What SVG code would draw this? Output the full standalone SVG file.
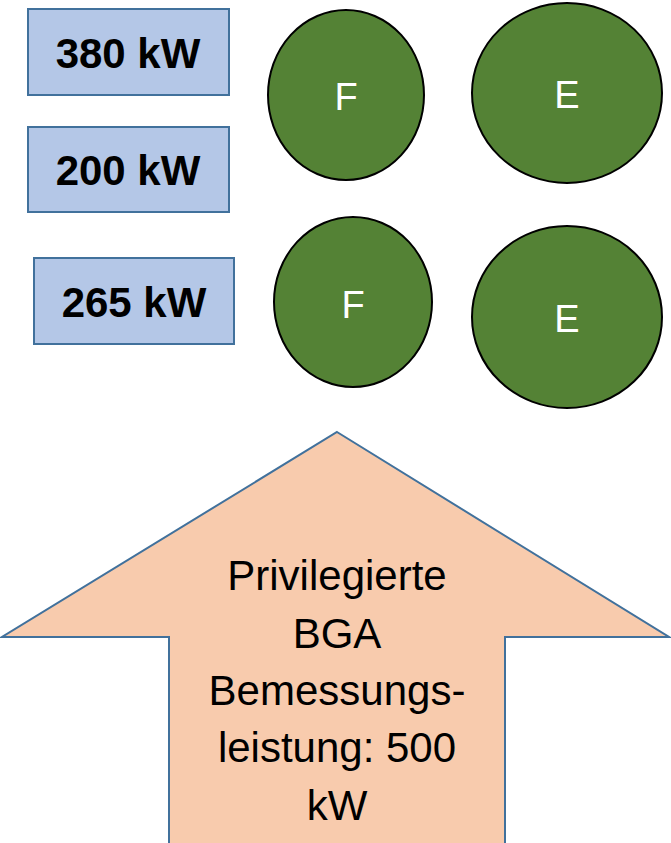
<svg xmlns="http://www.w3.org/2000/svg" width="671" height="843" viewBox="0 0 671 843">
<style>
.box{fill:#B4C7E7;stroke:#41719C;stroke-width:2}
.circ{fill:#548235;stroke:#000;stroke-width:2}
.arrow{fill:#F8CBAD;stroke:#41719C;stroke-width:2}
.bt{font-family:"Liberation Sans",Arial,sans-serif;font-weight:bold;font-size:42px;fill:#000;text-anchor:middle}
.ct{font-family:"Liberation Sans",Arial,sans-serif;font-size:38px;fill:#fff;text-anchor:middle}
.at{font-family:"Liberation Sans",Arial,sans-serif;font-size:42px;fill:#000;text-anchor:middle}
</style>
<rect width="671" height="843" fill="#fff"/>
<g id="arrow">
<polygon class="arrow" points="337,432 669,637 505,637 505,845 169,845 169,637 2,637"/>
<text class="at" x="337" y="590">Privilegierte</text>
<text class="at" x="337" y="648">BGA</text>
<text class="at" x="337" y="705">Bemessungs-</text>
<text class="at" x="337" y="762">leistung: 500</text>
<text class="at" x="337" y="820">kW</text>
</g>
<g id="box380">
<rect class="box" x="28" y="9" width="201" height="86"/>
<text class="bt" x="128" y="68">380 kW</text>
</g>
<g id="box200">
<rect class="box" x="28" y="127" width="201" height="85"/>
<text class="bt" x="128" y="185">200 kW</text>
</g>
<g id="box265">
<rect class="box" x="34" y="258" width="200" height="86"/>
<text class="bt" x="134" y="317">265 kW</text>
</g>
<g id="f1">
<ellipse class="circ" cx="346" cy="95" rx="78" ry="85"/>
<text class="ct" x="346" y="110">F</text>
</g>
<g id="e1">
<ellipse class="circ" cx="567" cy="93" rx="95" ry="90"/>
<text class="ct" x="567" y="108">E</text>
</g>
<g id="f2">
<ellipse class="circ" cx="353" cy="302" rx="79" ry="85"/>
<text class="ct" x="353" y="318">F</text>
</g>
<g id="e2">
<ellipse class="circ" cx="567" cy="317" rx="95" ry="91"/>
<text class="ct" x="567" y="332">E</text>
</g>
<g id="connectors"></g>
</svg>
